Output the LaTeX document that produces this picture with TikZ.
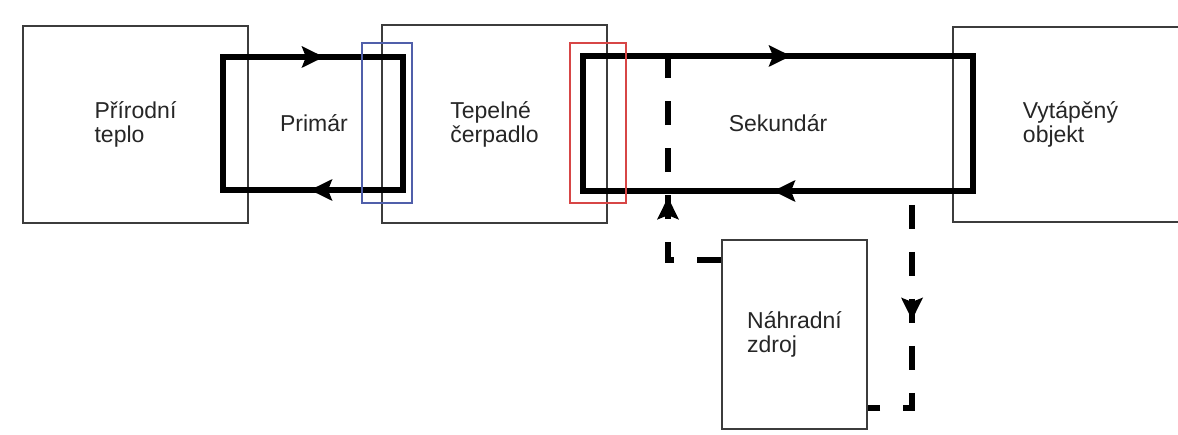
\documentclass[tikz,border=0pt]{standalone}
\usepackage{fontspec}
\setmainfont{Liberation Sans}
\usetikzlibrary{arrows.meta,decorations.markings}
\definecolor{framegray}{RGB}{60,60,60}
\definecolor{hxblue}{RGB}{80,95,170}
\definecolor{hxred}{RGB}{215,70,70}
\tikzset{
  box/.style={draw=framegray, line width=1.6pt, fill=white, align=left, inner sep=0pt,
    text=black!85, font=\fontsize{23}{24}\selectfont},
  lbl/.style={text=black!85, font=\fontsize{23}{24}\selectfont, inner sep=0pt},
  flow/.style={line width=6.5pt, black, line join=miter},
  backup/.style={line width=5.5pt, black, dash pattern=on 24pt off 23pt},
  headtip/.tip={Stealth[length=22pt,width=21pt,inset=4pt]},
  tipat/.style={postaction={decorate, decoration={markings,
    mark=at position #1 with {\arrow{headtip}}}}},
  hx/.style={line width=1.3pt},
}
\begin{document}
\begin{tikzpicture}[x=1pt,y=-1pt]
\useasboundingbox (0,0) rectangle (1178,435);
\clip (0,0) rectangle (1178,435);
% boxes
\node[box, minimum width=225pt, minimum height=197pt] (nat) at (135.5,124.5) {Přírodní\\teplo};
\node[box, minimum width=225pt, minimum height=198pt] (hp) at (494.5,124) {Tepelné\\čerpadlo};
\node[box, minimum width=235pt, minimum height=195pt] (obj) at (1070.5,124.5) {Vytápěný\\objekt};
\node[box, minimum width=145pt, minimum height=189pt] (zdroj) at (794.5,334.5) {Náhradní\\zdroj};
% primary loop
\coordinate (pa) at (223,57);
\coordinate (pb) at (403,57);
\coordinate (pc) at (403,190);
\coordinate (pd) at (223,190);
\draw[flow, tipat=101pt, postaction={decorate, decoration={markings,
    mark=at position 406pt with {\arrow{headtip}}}}]
  (pa) -- (pb) -- (pc) -- (pd) -- cycle;
\node[lbl] (prim) at (314,123) {Primár};
% secondary loop
\coordinate (sa) at (583,56);
\coordinate (sb) at (973,56);
\coordinate (sc) at (973,191);
\coordinate (sd) at (583,191);
\draw[flow, tipat=208pt, postaction={decorate, decoration={markings,
    mark=at position 725pt with {\arrow{headtip}}}}]
  (sa) -- (sb) -- (sc) -- (sd) -- cycle;
\node[lbl] (sek) at (778,123) {Sekundár};
% heat exchangers
\node[draw=hxblue, hx, minimum width=50pt, minimum height=160pt, inner sep=0pt] (hxp) at (387,123) {};
\node[draw=hxred, hx, minimum width=56pt, minimum height=160pt, inner sep=0pt] (hxs) at (598,123) {};
% backup source connections
\coordinate (sup) at (668,56);
\coordinate (ly) at (0,260);
\coordinate (rtop) at (912,191);
\coordinate (ry) at (0,408);
\draw[backup, tipat=116pt] (zdroj.west |- ly) -| (sup);
\draw[backup, dash phase=33pt, tipat=129pt] (rtop) |- (zdroj.east |- ry);
\end{tikzpicture}
\end{document}
